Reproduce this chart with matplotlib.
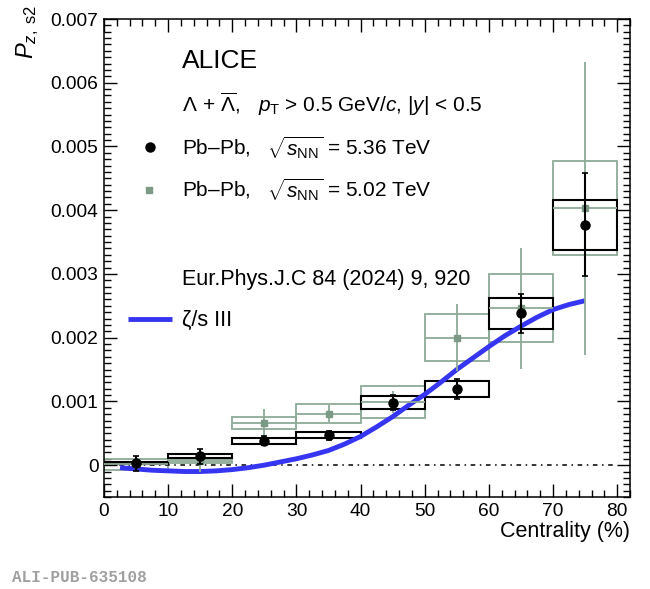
import numpy as np
import matplotlib
matplotlib.use('Agg')
import matplotlib.pyplot as plt
from matplotlib.patches import Rectangle
from matplotlib.ticker import MultipleLocator, FuncFormatter

plt.rcParams['font.family'] = ['Liberation Sans', 'DejaVu Sans']
plt.rcParams['mathtext.fontset'] = 'custom'
plt.rcParams['mathtext.rm'] = 'Liberation Sans'
plt.rcParams['mathtext.it'] = 'Liberation Sans:italic'
plt.rcParams['mathtext.bf'] = 'Liberation Sans:bold'
plt.rcParams['mathtext.cal'] = 'Liberation Serif'

# centrality bins
cent_lo = [0, 10, 20, 30, 40, 50, 60, 70]
cent_hi = [10, 20, 30, 40, 50, 60, 70, 80]
cent = [5, 15, 25, 35, 45, 55, 65, 75]

# Pb-Pb 5.36 TeV
pz_536 = [0.00003, 0.00014, 0.00038, 0.00047, 0.00098, 0.00119, 0.00238, 0.00377]
stat_536 = [0.00012, 0.00012, 0.00007, 0.00007, 0.00012, 0.00016, 0.00030, 0.00081]
syst_536 = [0.00002, 0.000035, 0.000045, 0.00005, 0.0001, 0.000125, 0.000245, 0.00039]

# Pb-Pb 5.02 TeV
pz_502 = [0.00001, 0.00006, 0.00066, 0.00081, 0.00099, 0.00200, 0.00246, 0.00403]
stat_502 = [0.00005, 0.00016, 0.00022, 0.00014, 0.00017, 0.00053, 0.00095, 0.00230]
syst_502 = [0.00008, 0.00003, 0.0001, 0.000155, 0.000255, 0.00037, 0.000535, 0.00074]

# zeta/s III model
cent_model = [2.5, 5, 7.5, 10, 12.5, 15, 17.5, 20, 22.5, 25, 27.5, 30, 32.5, 35, 37.5,
              40, 42.5, 45, 47.5, 50, 52.5, 55, 57.5, 60, 62.5, 65, 67.5, 70, 72.5, 75]
pz_model = [-0.00004, -0.00006, -0.00008, -0.00009, -0.0001, -0.0001, -0.00009, -0.00007,
            -0.00004, 0.0, 0.00005, 0.0001, 0.00016, 0.00023, 0.00033,
            0.00045, 0.0006, 0.00076, 0.00094, 0.00111, 0.0013, 0.0015, 0.00168, 0.00186,
            0.00203, 0.00218, 0.00232, 0.00244, 0.00252, 0.00258]

gray_line = '#8eaa97'
gray_mark = '#7b9985'
blue = '#3535f2'

fig = plt.figure(figsize=(6.5, 5.89), dpi=100)
ax = fig.add_axes([104/650, 92/589, 526/650, 478/589])

# systematic boxes
for lo, hi, y, s in zip(cent_lo, cent_hi, pz_502, syst_502):
    ax.add_patch(Rectangle((lo, y - s), hi - lo, 2*s, fill=False, ec=gray_line, lw=1.3, zorder=2))
for lo, hi, y, s in zip(cent_lo, cent_hi, pz_536, syst_536):
    ax.add_patch(Rectangle((lo, y - s), hi - lo, 2*s, fill=False, ec='black', lw=1.5, zorder=3))

# zero line
ax.plot([0, 80], [0, 0], color='black', lw=1.1, ls=(0, (3, 3, 1, 3)), zorder=3.5)

# model
ax.plot(cent_model, pz_model, color=blue, lw=3.5, zorder=4, solid_capstyle='butt')

# data points
ax.errorbar(cent, pz_502, yerr=stat_502, xerr=5, fmt='s', color=gray_mark, ecolor=gray_line,
            elinewidth=1.3, ms=5, capsize=0, zorder=5)
ax.errorbar(cent, pz_536, yerr=stat_536, fmt='o', color='black', ecolor='black',
            elinewidth=1.5, ms=6.5, capsize=2, capthick=1.2, zorder=6)

ax.set_xlim(0, 82)
ax.set_ylim(-0.0005, 0.007)
ax.xaxis.set_major_locator(MultipleLocator(10))
ax.xaxis.set_minor_locator(MultipleLocator(2))
ax.yaxis.set_major_locator(MultipleLocator(0.001))
ax.yaxis.set_minor_locator(MultipleLocator(0.0001))
ax.yaxis.set_major_formatter(FuncFormatter(lambda v, p: '0' if abs(v) < 1e-9 else f'{v:.3f}'))
ax.tick_params(which='both', direction='in', top=True, right=True, labelsize=13.8, width=1)
ax.tick_params(which='major', length=9.5, pad=4)
ax.tick_params(which='minor', length=5)
for sp in ax.spines.values():
    sp.set_linewidth(1.1)

ax.set_xlabel('Centrality (%)', fontsize=15.5, loc='right', labelpad=1)
fig.text(28/650, 1 - 5/589, r'$P_{z,\;\mathrm{s2}}$', rotation=90, fontsize=17,
         ha='center', va='top')

# legend / annotations
tx = (182 - 104) / 526
def ay(py):
    return (497 - py) / 478

ax.text(tx, ay(61), 'ALICE', transform=ax.transAxes, fontsize=19, va='center')
ax.text(tx, ay(104), r'$\Lambda\,+\,\overline{\Lambda}$,   $p_{\mathrm{T}}$ > 0.5 GeV/$c$, $|y|$ < 0.5',
        transform=ax.transAxes, fontsize=15, va='center')
ax.plot([(150 - 104) / 526], [ay(147)], 'o', color='black', ms=6.5, transform=ax.transAxes, clip_on=False)
ax.text(tx, ay(148), 'Pb–Pb,   ' + r'$\sqrt{s_{\mathrm{NN}}}$ = 5.36 TeV', transform=ax.transAxes,
        fontsize=15, va='center')
ax.plot([(149 - 104) / 526], [ay(190)], 's', color=gray_mark, ms=5, transform=ax.transAxes, clip_on=False)
ax.text(tx, ay(190), 'Pb–Pb,   ' + r'$\sqrt{s_{\mathrm{NN}}}$ = 5.02 TeV', transform=ax.transAxes,
        fontsize=15, va='center')
ax.text(tx, ay(280), 'Eur.Phys.J.C 84 (2024) 9, 920', transform=ax.transAxes, fontsize=15.5, va='center')
ax.plot([(128 - 104) / 526, (172 - 104) / 526], [ay(319), ay(319)], color=blue, lw=3.5,
        transform=ax.transAxes, solid_capstyle='butt')
ax.text(tx, ay(320), 'ζ/s III', transform=ax.transAxes, fontsize=15.5, va='center')

fig.text(12/650, 1 - 578/589, 'ALI-PUB-635108', family='Liberation Mono', weight='bold',
         color='#a0a0a0', fontsize=11.5, va='center')

fig.savefig('out.png', dpi=100)
